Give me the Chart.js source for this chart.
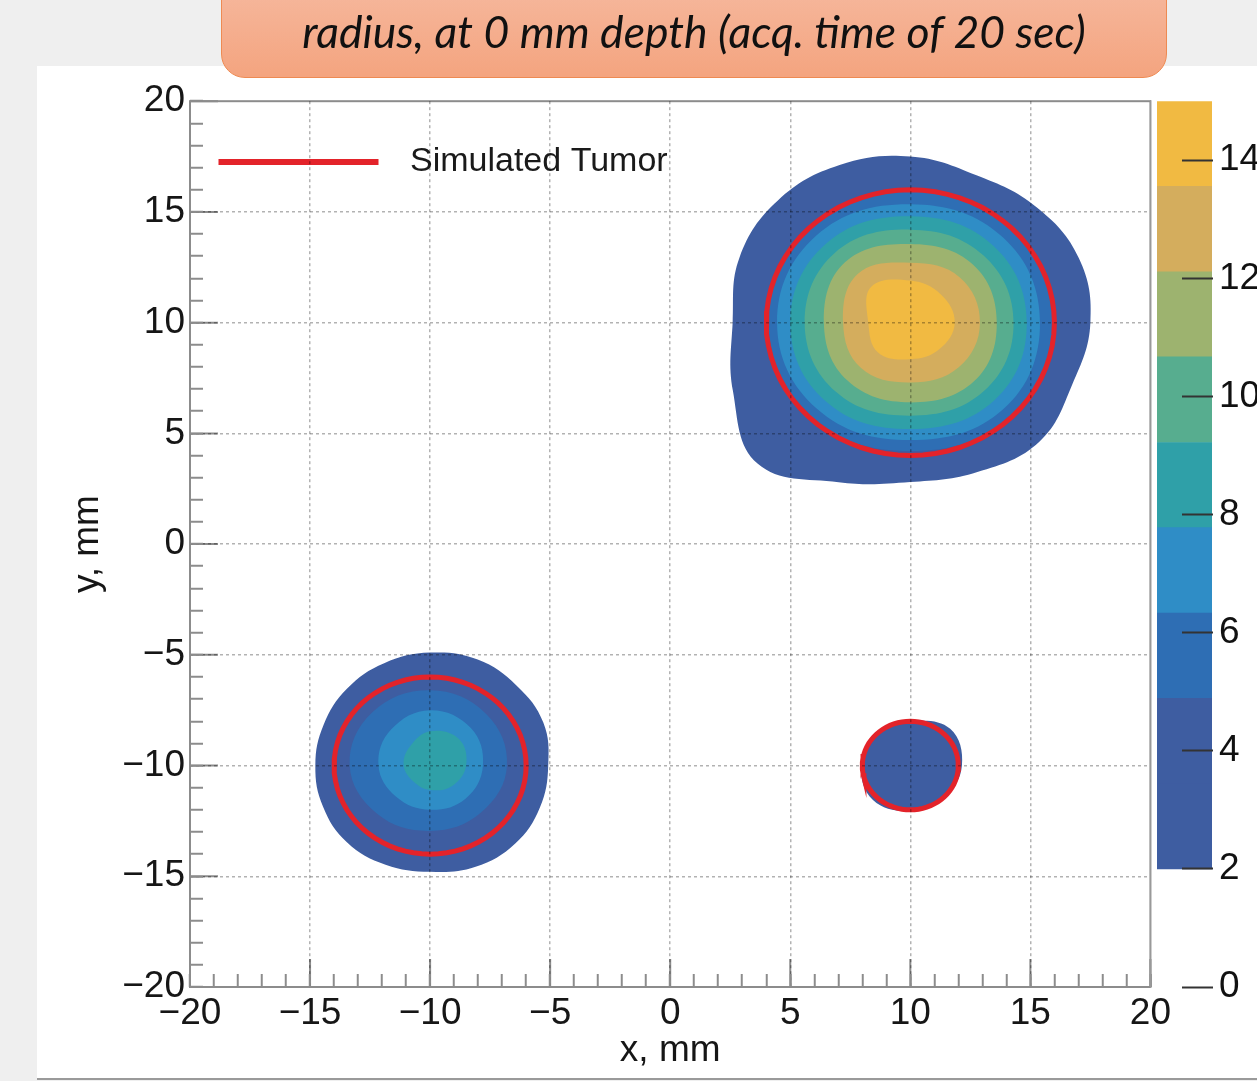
<!DOCTYPE html>
<html>
<head>
<meta charset="utf-8">
<script src="https://cdn.jsdelivr.net/npm/chart.js@4.4.1/dist/chart.umd.min.js"></script>
<style>
  html, body { margin: 0; padding: 0; overflow: hidden; }
  body { width: 1257px; height: 1081px; background: #efefef; position: relative; }
  #panel { position: absolute; left: 37px; top: 66px; width: 1220px; height: 1012px; background: #fff; border-bottom: 2px solid #9a9a9a; }
  #mapBox { position: absolute; left: 37px; top: 61px; width: 1152px; height: 1017px; }
  #scaleBox { position: absolute; left: 1150px; top: 42px; width: 190px; height: 1036px; }
  #title { position: absolute; left: 221px; top: -30px; width: 944px; height: 106px; border: 1.5px solid #ee8a52; border-radius: 24px; background: linear-gradient(#f6bba2, #f4a47f); }
  #title span { position: absolute; left: 0; right: 0; top: 35px; text-align: center; font: italic 44.5px Lato, sans-serif; color: #111; line-height: 49px; white-space: nowrap; }
</style>
</head>
<body>
<div id="panel"></div>
<div id="mapBox"><canvas id="map"></canvas></div>
<div id="scaleBox"><canvas id="colorScale"></canvas></div>
<div id="title"><span>radius, at 0 mm depth (acq. time of 20 sec)</span></div>
<script>
// colour scale: contour level edges (counts) and the fill of each band
const levels = [2, 3.44, 4.89, 6.33, 7.78, 9.22, 10.67, 12.11, 13.56, 15];
const bandColors = ['#3e5da1', '#3e5da1', '#2e6eb4', '#2f8dc6', '#2fa0a8', '#57ad8f', '#9db36f', '#d4ad5d', '#f1ba42'];

// simulated tumours (mm)
const tumorX = [10, -10, 10];
const tumorY = [10, -10, -10];
const tumorR = [6, 4, 2];

// reconstructed blobs: contour radius (mm) read at evenly spaced angles, counter-clockwise from +x
// blob 1, centre (10, 10)
const blob1Centre = [10, 10];
const blob1Lvl2 = [7.5, 7.6, 7.4, 7.2, 7.5, 7.7, 7.8, 7.7, 7.4, 8.0, 9.0, 7.8, 7.2, 7.3, 7.6, 7.3];
const blob1Lvl5 = [5.95, 6.0, 5.95, 6.05, 5.9, 5.95, 5.8, 5.95];
const blob1Lvl6 = [5.4, 5.45, 5.35, 5.55, 5.55, 5.5, 5.3, 5.5];
const blob1Lvl8 = [4.85, 4.9, 4.8, 5.0, 5.0, 5.0, 4.8, 4.95];
const blob1Lvl9 = [4.3, 4.3, 4.2, 4.45, 4.4, 4.4, 4.2, 4.35];
const blob1Lvl11 = [3.6, 3.7, 3.55, 3.85, 3.6, 3.7, 3.6, 3.75];
const blob1Lvl12 = [2.9, 2.9, 2.7, 3.1, 2.8, 2.9, 2.7, 2.85];
const blob1Lvl14 = [1.85, 1.8, 1.9, 2.3, 1.75, 1.9, 1.65, 1.7];
// blob 2, centre (-10, -10)
const blob2Centre = [-10, -10];
const blob2Lvl2 = [4.92, 5.1, 5.1, 5.18, 5.1, 5.0, 4.9, 4.8, 4.78, 4.83, 4.9, 4.85, 4.8, 4.95, 5.0, 4.95];
const blob2Lvl5 = [3.2, 3.3, 3.4, 3.4, 3.35, 3.1, 2.95, 3.0];
const blob2Lvl6 = [2.2, 2.4, 2.5, 2.3, 2.15, 2.0, 2.0, 2.1];
const blob2Lvl8 = [1.5, 1.7, 1.55, 1.2, 1.1, 1.0, 1.1, 1.3];
// blob 3, centre (10, -10)
const blob3Centre = [10, -10];
const blob3Lvl2 = [2.15, 2.35, 2.0, 2.0, 2.05, 2.2, 2.05, 2.0];

const fmt = v => (v < 0 ? '\u2212' + Math.abs(v) : String(v));

Chart.defaults.font.family = "'Liberation Sans', Arial, sans-serif";

// closed outline, wrapped so the spline has no kink where it closes
function ring(centre, radii) {
  const n = radii.length;
  const pts = radii.map((r, k) => ({
    x: centre[0] + r * Math.cos(2 * Math.PI * k / n),
    y: centre[1] + r * Math.sin(2 * Math.PI * k / n)
  }));
  return [pts[n - 1], ...pts, pts[0], pts[1]];
}

const contours = [
  [blob1Centre, blob1Lvl2, 0], [blob1Centre, blob1Lvl5, 2], [blob1Centre, blob1Lvl6, 3],
  [blob1Centre, blob1Lvl8, 4], [blob1Centre, blob1Lvl9, 5], [blob1Centre, blob1Lvl11, 6],
  [blob1Centre, blob1Lvl12, 7], [blob1Centre, blob1Lvl14, 8],
  [blob2Centre, blob2Lvl2, 0], [blob2Centre, blob2Lvl5, 2], [blob2Centre, blob2Lvl6, 3],
  [blob2Centre, blob2Lvl8, 4],
  [blob3Centre, blob3Lvl2, 0]
];

const datasets = contours.map(([c, r, band]) => ({
  label: 'level ' + levels[band],
  data: ring(c, r),
  showLine: true,
  fill: 'shape',
  backgroundColor: bandColors[band],
  borderColor: bandColors[band],
  borderWidth: 0,
  tension: 0.4,
  order: 20 - band
}));

const tumorPoints = [];
tumorX.forEach((cx, i) => {
  for (let k = 0; k <= 72; k++) {
    const t = 2 * Math.PI * k / 72;
    tumorPoints.push({ x: cx + tumorR[i] * Math.cos(t), y: tumorY[i] + tumorR[i] * Math.sin(t) });
  }
  tumorPoints.push({ x: null, y: null });
});
datasets.push({
  label: '\u2002Simulated Tumor',
  data: tumorPoints,
  showLine: true,
  fill: false,
  borderColor: '#e3232a',
  backgroundColor: '#e3232a',
  borderWidth: 5,
  tension: 0,
  order: 0
});

const gridColor = ctx => (ctx.tick && ctx.tick.value % 5 === 0 && Math.abs(ctx.tick.value) < 20) ? 'rgba(0,0,0,0.3)' : 'rgba(0,0,0,0)';

// frame and long solid ticks at the labelled values (ROOT style, pointing inwards)
const frameAndTicks = {
  id: 'frameAndTicks',
  afterDatasetsDraw(chart) {
    const { ctx, chartArea: a, scales: { x, y } } = chart;
    ctx.save();
    ctx.strokeStyle = '#8c8c8c';
    ctx.lineWidth = 2;
    ctx.beginPath();
    x.ticks.forEach(t => {
      if (t.value % 5 === 0) { const p = x.getPixelForValue(t.value); ctx.moveTo(p, a.bottom); ctx.lineTo(p, a.bottom - 28); }
    });
    y.ticks.forEach(t => {
      if (t.value % 5 === 0) { const p = y.getPixelForValue(t.value); ctx.moveTo(a.left, p); ctx.lineTo(a.left + 28, p); }
    });
    ctx.stroke();
    ctx.strokeRect(a.left, a.top, a.right - a.left, a.bottom - a.top);
    ctx.restore();
  }
};

new Chart(document.getElementById('map'), {
  type: 'scatter',
  data: { datasets },
  options: {
    responsive: true,
    maintainAspectRatio: false,
    animation: false,
    events: [],
    layout: { padding: 0 },
    elements: { point: { radius: 0, hoverRadius: 0 } },
    plugins: {
      tooltip: { enabled: false },
      legend: {
        position: 'chartArea',
        align: 'start',
        labels: {
          filter: item => item.text.includes('Simulated Tumor'),
          boxWidth: 155, boxHeight: 1, padding: 31,
          color: '#1a1a1a', font: { size: 34 }
        },
        title: { display: true, text: '', padding: { top: 40, bottom: 0 }, font: { size: 10, lineHeight: 1.3 } }
      }
    },
    scales: {
      x: {
        type: 'linear', position: 'bottom', min: -20, max: 20,
        afterFit: s => { s.height = 91; },
        ticks: { stepSize: 1, autoSkip: false, maxRotation: 0, padding: 18, color: '#161616', font: { size: 37 }, callback: v => (v % 5 === 0 ? fmt(v) : '') },
        grid: { z: 1, color: gridColor, lineWidth: 1.5, tickLength: -13, tickColor: '#8c8c8c', tickWidth: 2, tickBorderDash: [] },
        border: { display: false, dash: [3, 3] },
        title: { display: true, text: 'x, mm', color: '#161616', font: { size: 37 }, padding: { top: 0, bottom: 5 } }
      },
      y: {
        type: 'linear', position: 'left', min: -20, max: 20,
        afterFit: s => { s.width = 153; },
        ticks: { stepSize: 1, autoSkip: false, padding: 18, color: '#161616', font: { size: 37 }, callback: v => (v % 5 === 0 ? fmt(v) : '') },
        grid: { z: 1, color: gridColor, lineWidth: 1.5, tickLength: -13, tickColor: '#8c8c8c', tickWidth: 2, tickBorderDash: [] },
        border: { display: false, dash: [3, 3] },
        title: { display: true, text: 'y, mm', color: '#161616', font: { size: 37 }, padding: { top: 29, bottom: 0 } }
      }
    }
  },
  plugins: [frameAndTicks]
});

// colour scale on the right
const bandDatasets = bandColors.map((col, i) => ({
  label: levels[i] + '-' + levels[i + 1],
  data: [[levels[i], levels[i + 1]]],
  backgroundColor: col,
  borderWidth: 0,
  barPercentage: 1,
  categoryPercentage: 1,
  grouped: false
}));

new Chart(document.getElementById('colorScale'), {
  type: 'bar',
  data: { labels: [''], datasets: bandDatasets },
  options: {
    responsive: true,
    maintainAspectRatio: false,
    animation: false,
    events: [],
    layout: { padding: { left: 7, top: 0, bottom: 91, right: 0 } },
    plugins: { legend: { display: false }, tooltip: { enabled: false } },
    scales: {
      x: { display: false },
      y: {
        position: 'right', min: 0, max: 15,
        afterFit: s => { s.width = 128; },
        ticks: { stepSize: 2, includeBounds: false, padding: 37, color: '#111', font: { size: 37 } },
        grid: { z: 1, drawOnChartArea: false, tickLength: -30, tickColor: '#333', tickWidth: 2 },
        border: { color: '#999', width: 2 }
      }
    }
  }
});
</script>
</body>
</html>
